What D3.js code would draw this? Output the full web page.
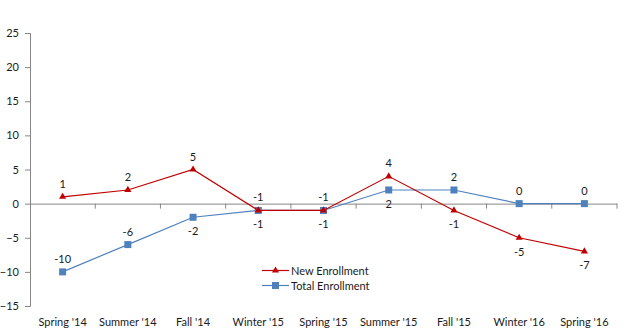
<!DOCTYPE html>
<html>
<head>
<meta charset="utf-8">
<script src="https://cdn.jsdelivr.net/npm/d3@7/dist/d3.min.js"></script>
<style>
  html, body { margin: 0; padding: 0; background: #fff; }
  svg text { font-family: Lato, "Open Sans", sans-serif; fill: #1a1a1a; }
</style>
</head>
<body>
<svg id="chart" width="626" height="336"></svg>
<script>
// Term-over-term enrollment change
const terms = ["Spring '14", "Summer '14", "Fall '14", "Winter '15", "Spring '15",
               "Summer '15", "Fall '15", "Winter '16", "Spring '16"];
const newEnrollment   = [1, 2, 5, -1, -1, 4, -1, -5, -7];
const totalEnrollment = [-10, -6, -2, -1, -1, 2, 2, 0, 0];
const yTicks = [-15, -10, -5, 0, 5, 10, 15, 20, 25];
const seriesNames = ["New Enrollment", "Total Enrollment"];

// Which side of each point its value label sits on (+1 above, -1 below)
const newLabelSide   = [1, 1, 1, 1, 1, 1, -1, -1, -1];
const totalLabelSide = [1, 1, -1, -1, -1, -1, 1, 1, 1];

const svg = d3.select("#chart");
const plotLeft = 30, plotRight = 617, plotTop = 33, plotBottom = 306;

const x = d3.scaleBand().domain(terms).range([plotLeft, plotRight]);
const y = d3.scaleLinear().domain([-15, 25]).range([plotBottom, plotTop]);
const axisColor = "#868686";

// Y axis
const yAxis = svg.append("g")
  .attr("transform", `translate(${plotLeft},0)`)
  .call(d3.axisLeft(y).tickValues(yTicks).tickSize(5).tickPadding(6));
yAxis.selectAll("path, line").attr("stroke", axisColor);
yAxis.selectAll("text").style("font-size", "11px");

// Category axis drawn along zero
const xAxis = svg.append("g")
  .attr("transform", `translate(0,${y(0)})`)
  .call(d3.axisBottom(x).tickSize(0).tickFormat(""));
xAxis.select(".domain").attr("stroke", axisColor);
xAxis.selectAll(".tick").remove();
const bounds = terms.map(t => x(t) + x.bandwidth());
svg.append("g").selectAll("line").data(bounds).join("line")
  .attr("x1", d => d).attr("x2", d => d)
  .attr("y1", y(0)).attr("y2", y(0) + 5)
  .attr("stroke", axisColor);

// Category labels along the bottom
svg.append("g").selectAll("text").data(terms).join("text")
  .attr("x", d => x(d) + x.bandwidth() / 2)
  .attr("y", 326)
  .attr("text-anchor", "middle")
  .style("font-size", "11px")
  .text(d => d);

const red = "#C00000", blue = "#4F81BD";
const cx = (d, i) => x(terms[i]) + x.bandwidth() / 2;
const line = d3.line().x(cx).y(d => y(d));

// Total Enrollment
svg.append("path").datum(totalEnrollment)
  .attr("d", line).attr("fill", "none").attr("stroke", blue).attr("stroke-width", 1.2);
svg.append("g").selectAll("rect").data(totalEnrollment).join("rect")
  .attr("x", (d, i) => cx(d, i) - 3.5).attr("y", d => y(d) - 3.5)
  .attr("width", 7).attr("height", 7).attr("fill", blue);

// New Enrollment
svg.append("path").datum(newEnrollment)
  .attr("d", line).attr("fill", "none").attr("stroke", red).attr("stroke-width", 1.2);
const tri = d3.symbol().type(d3.symbolTriangle).size(22);
svg.append("g").selectAll("path").data(newEnrollment).join("path")
  .attr("d", tri)
  .attr("transform", (d, i) => `translate(${cx(d, i)},${y(d)})`)
  .attr("fill", red);

// Value labels
function labels(values, sides) {
  svg.append("g").selectAll("text").data(values).join("text")
    .attr("x", (d, i) => cx(d, i))
    .attr("y", (d, i) => y(d) + (sides[i] > 0 ? -9 : 18))
    .attr("text-anchor", "middle")
    .style("font-size", "11px")
    .text(d => d);
}
labels(newEnrollment, newLabelSide);
labels(totalEnrollment, totalLabelSide);

// Legend
const legend = svg.append("g");
[[red, "tri"], [blue, "sq"]].forEach(([c, m], i) => {
  const ly = 270.5 + i * 15;
  legend.append("line").attr("x1", 262).attr("x2", 289).attr("y1", ly).attr("y2", ly)
    .attr("stroke", c).attr("stroke-width", 1.2);
  if (m === "tri") {
    legend.append("path").attr("d", tri).attr("transform", `translate(275.5,${ly})`).attr("fill", c);
  } else {
    legend.append("rect").attr("x", 272).attr("y", ly - 3.5).attr("width", 7).attr("height", 7).attr("fill", c);
  }
  legend.append("text").attr("x", 291).attr("y", ly + 4)
    .style("font-size", "11px").text(seriesNames[i]);
});
</script>
</body>
</html>
